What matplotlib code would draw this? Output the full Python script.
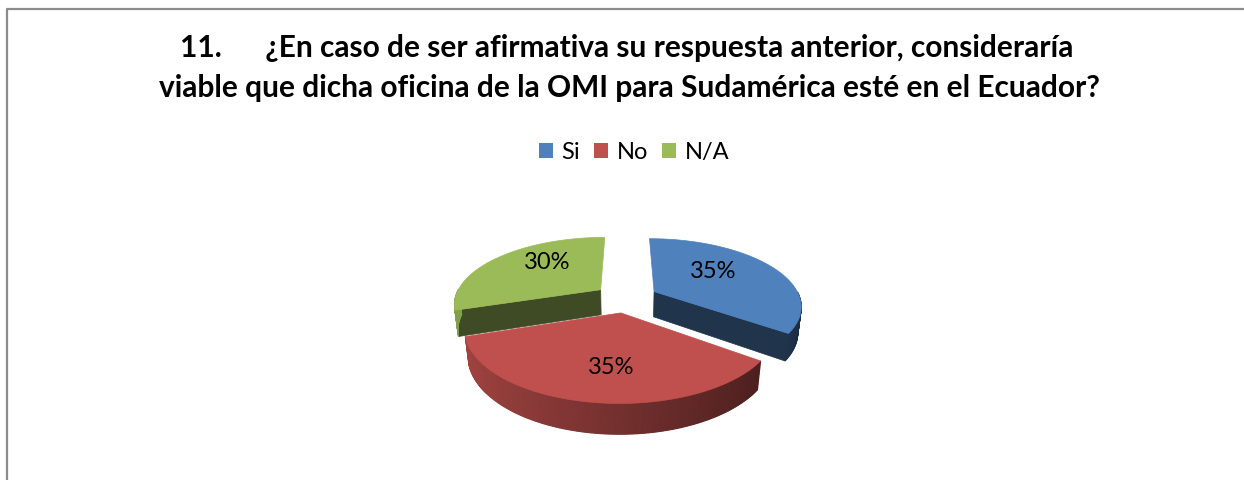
import numpy as np
import matplotlib
matplotlib.use("Agg")
import matplotlib.pyplot as plt
from matplotlib.patches import Polygon, Patch
from matplotlib.colors import to_rgb

# ---- data ----
categories = ["Si", "No", "N/A"]
values = [35, 35, 30]
labels = ["35%", "35%", "30%"]
colors = ["#4F81BD", "#C0504D", "#9BBB59"]
title_lines = ["11.      ¿En caso de ser afirmativa su respuesta anterior, consideraría",
               "viable que dicha oficina de la OMI para Sudamérica esté en el Ecuador?"]

W, H = 1244, 481
fig = plt.figure(figsize=(W / 100, H / 100), dpi=100)
ax = fig.add_axes([0, 0, 1, 1])
ax.set_xlim(0, W)
ax.set_ylim(H, 0)
ax.axis("off")
plt.rcParams["font.family"] = ["Lato", "DejaVu Sans"]

# frame of chart area
ax.plot([7, 7, W + 5], [H + 5, 10, 10], color="#8C8C8C", lw=1.6, solid_capstyle="butt")

# ---- 3D pie geometry ----
Cx, Cy, R = 626.0, 299.0, 146.0
sphi = 0.45
cphi = np.sqrt(1 - sphi ** 2)
D = 4.5
depth = 0.2
explode = 0.22


def proj(u, v, h):
    yv = v * sphi + h * cphi
    zv = v * cphi - h * sphi
    k = D / (D + zv)
    return Cx + R * u * k, Cy - R * yv * k


def shade(c, f):
    r, g, b = to_rgb(c)
    return (min(r * f, 1), min(g * f, 1), min(b * f, 1))


def side_factor(a):
    # lighting of outer wall: lighter on the left, darker on the right
    f = 0.6 - 0.25 * np.cos(np.radians(a))
    return float(np.clip(f, 0.3, 0.9))


total = float(sum(values))
slices = []
cum = 0.0
for i, val in enumerate(values):
    t2 = 90 - cum / total * 360
    cum += val
    t1 = 90 - cum / total * 360
    if t1 < -180:
        t1 += 360
        t2 += 360
    mid = np.radians((t1 + t2) / 2)
    ox, oy = explode * np.cos(mid), explode * np.sin(mid)
    slices.append(dict(i=i, t1=t1, t2=t2, ox=ox, oy=oy, mid=mid))

# back to front
slices.sort(key=lambda s: -np.sin(s["mid"]))

for s in slices:
    c = colors[s["i"]]
    ox, oy = s["ox"], s["oy"]
    t1, t2 = s["t1"], s["t2"]
    angs = np.radians(np.linspace(t1, t2, 200))

    # radial cut faces
    for ta, nrm in ((t1, t1 - 90), (t2, t2 + 90)):
        if np.sin(np.radians(nrm)) < -0.05:
            a = np.radians(ta)
            pts = [proj(ox, oy, 0), proj(ox + np.cos(a), oy + np.sin(a), 0),
                   proj(ox + np.cos(a), oy + np.sin(a), -depth), proj(ox, oy, -depth)]
            fc = shade(c, 0.4)
            ax.add_patch(Polygon(pts, closed=True, fc=fc, ec=fc, lw=0.5, zorder=2))

    # outer wall (visible front part), drawn as shaded strips
    deg = np.linspace(t1, t2, 160)
    for a0, a1 in zip(deg[:-1], deg[1:]):
        am = (a0 + a1) / 2
        if np.sin(np.radians(am)) >= 0:
            continue
        r0, r1 = np.radians(a0), np.radians(a1)
        pts = [proj(ox + np.cos(r0), oy + np.sin(r0), 0), proj(ox + np.cos(r1), oy + np.sin(r1), 0),
               proj(ox + np.cos(r1), oy + np.sin(r1), -depth), proj(ox + np.cos(r0), oy + np.sin(r0), -depth)]
        fc = shade(c, side_factor(am))
        ax.add_patch(Polygon(pts, closed=True, fc=fc, ec=fc, lw=0.8, zorder=2))

    # top face
    pts = [proj(ox, oy, 0)] + [proj(ox + np.cos(a), oy + np.sin(a), 0) for a in angs]
    ax.add_patch(Polygon(pts, closed=True, fc=c, ec=c, lw=0.5, zorder=3))

    # label
    lr = 0.45
    lu = ox + lr * np.cos(s["mid"])
    lv = oy + lr * np.sin(s["mid"])
    lx = Cx + R * lu
    ly = Cy + 3 - R * 0.68 * lv
    ax.text(lx, ly, labels[s["i"]], ha="center", va="center", fontsize=17, color="black", zorder=5)

# ---- title ----
ax.text(W / 2 + 5, 48, title_lines[0], ha="center", va="center", fontsize=21.5, fontweight="bold")
ax.text(W / 2 + 7, 88, title_lines[1], ha="center", va="center", fontsize=21.5, fontweight="bold")

# ---- legend ----
handles = [Patch(fc=col, ec="none") for col in colors]
fig.legend(handles, categories, loc="center", bbox_to_anchor=(634 / W, 1 - 153 / H), ncol=3,
           frameon=False, fontsize=17, handlelength=0.6, handleheight=0.6, handletextpad=0.35,
           columnspacing=0.6, borderaxespad=0)

fig.savefig("out.png", dpi=100)
